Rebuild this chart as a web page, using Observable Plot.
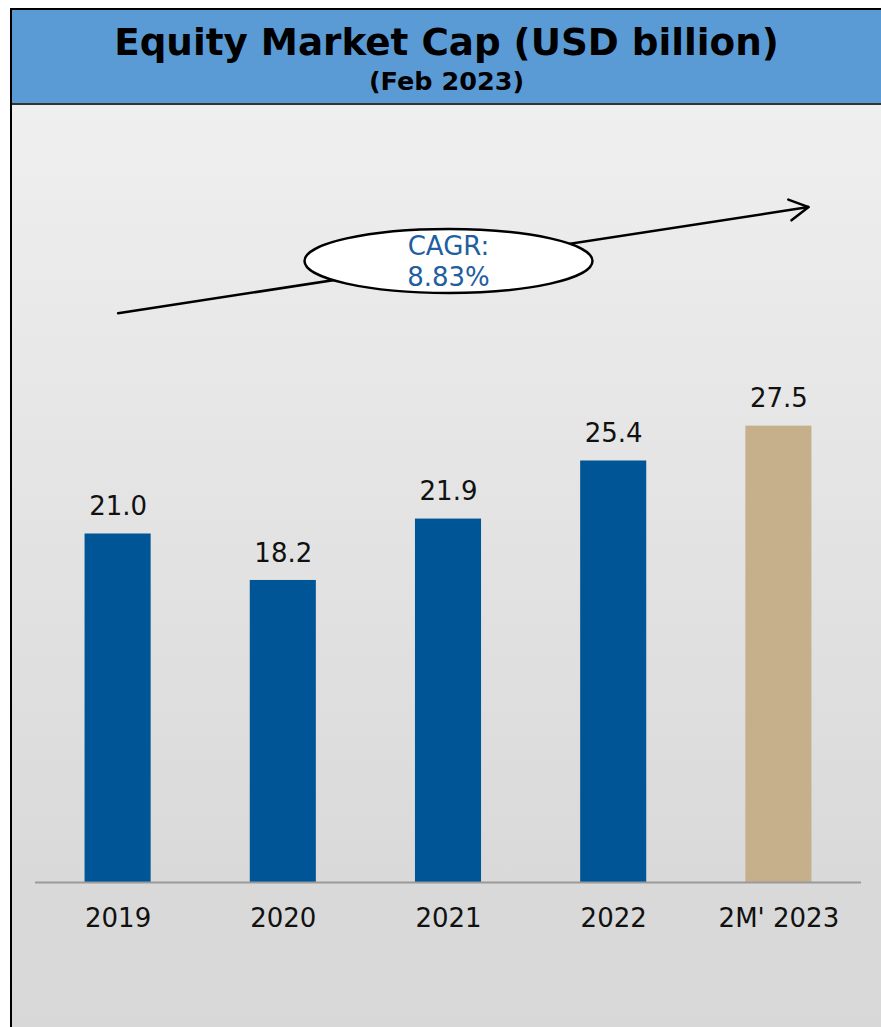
<!DOCTYPE html>
<html>
<head>
<meta charset="utf-8">
<script src="https://cdn.jsdelivr.net/npm/d3@7"></script>
<script src="https://cdn.jsdelivr.net/npm/@observablehq/plot@0.6"></script>
<style>
  html, body { margin: 0; padding: 0; background: #ffffff; }
  body { width: 881px; height: 1027px; overflow: hidden; position: relative; font-family: "DejaVu Sans", Verdana, sans-serif; }
  #frame { position: absolute; left: 10px; top: 8px; width: 871px; height: 1019px; border-left: 2px solid #000; box-sizing: border-box; }
  #titlebar { position: relative; height: 97px; background: #5B9BD5; border-top: 2px solid #000; border-bottom: 2px solid #333; box-sizing: border-box; }
  #title { position: absolute; left: 0; right: 0; top: 11px; text-align: center; font-weight: bold; font-size: 37.3px; color: #000; line-height: 43px; white-space: nowrap; }
  #subtitle { position: absolute; left: 0; right: 0; top: 56px; text-align: center; font-weight: bold; font-size: 25.5px; color: #000; line-height: 30px; white-space: nowrap; }
  #chart { position: relative; height: 922px; background: linear-gradient(to bottom, #efefef 0%, #d9d9d9 85%, #d8d8d8 100%); }
  #chart svg { display: block; background: transparent; }
</style>
</head>
<body>
<div id="frame">
  <div id="titlebar">
    <div id="title">Equity Market Cap (USD billion)</div>
    <div id="subtitle">(Feb 2023)</div>
  </div>
  <div id="chart"></div>
</div>
<script>
// Data
const categories = ["2019", "2020", "2021", "2022", "2M' 2023"];
const values = [21.0, 18.2, 21.9, 25.4, 27.5];
const cagrLabel = "CAGR:\n8.83%";
// CAGR arrow annotation (in data units: category index, USD billion)
const cagrArrow = [{ fromIndex: 0, fromValue: 34.3, toIndex: 4.18, toValue: 40.7 }];
const cagrBubble = [{ index: 2, value: 37.45 }];

const blue = "#005597";
const tan = "#C6B08B";

const rx = 144, ry = 32, k = 0.5522847498;
const ellipseSymbol = {
  draw(ctx) {
    ctx.moveTo(rx, 0);
    ctx.bezierCurveTo(rx, ry * k, rx * k, ry, 0, ry);
    ctx.bezierCurveTo(-rx * k, ry, -rx, ry * k, -rx, 0);
    ctx.bezierCurveTo(-rx, -ry * k, -rx * k, -ry, 0, -ry);
    ctx.bezierCurveTo(rx * k, -ry, rx, -ry * k, rx, 0);
    ctx.closePath();
  }
};

const chart = Plot.plot({
  width: 869,
  height: 922,
  marginLeft: 23,
  marginRight: 20,
  marginTop: 80,
  marginBottom: 145,
  style: { fontFamily: "'DejaVu Sans', Verdana, sans-serif", fontSize: "26px", color: "#111", background: "transparent" },
  x: {
    domain: [-0.5, categories.length - 0.5],
    ticks: d3.range(categories.length),
    tickFormat: i => categories[i],
    tickSize: 0,
    tickPadding: 26,
    label: null
  },
  y: { domain: [0, 42], axis: null },
  color: { type: "identity" },
  marks: [
    Plot.rect(values, {
      x1: (d, i) => i - 0.2,
      x2: (d, i) => i + 0.2,
      y1: 0,
      y2: d => d,
      fill: (d, i) => i === values.length - 1 ? tan : blue
    }),
    Plot.ruleY([0], { stroke: "#9a9a9a", strokeWidth: 2 }),
    Plot.text(values, {
      x: (d, i) => i,
      y: d => d,
      text: d => d.toFixed(1),
      dy: -27,
      fontSize: 26,
      fill: "#111"
    }),
    Plot.arrow(cagrArrow, {
      x1: "fromIndex", y1: "fromValue", x2: "toIndex", y2: "toValue",
      stroke: "#000", strokeWidth: 2.5, headLength: 13, headAngle: 58
    }),
    Plot.dot(cagrBubble, {
      x: "index", y: "value", symbol: ellipseSymbol,
      fill: "#ffffff", stroke: "#000", strokeWidth: 2.5
    }),
    Plot.text(cagrBubble, {
      x: "index", y: "value",
      text: () => cagrLabel,
      fontSize: 26, lineHeight: 1.19, fill: "#1F5FA0"
    })
  ]
});
document.getElementById("chart").appendChild(chart);
</script>
</body>
</html>
